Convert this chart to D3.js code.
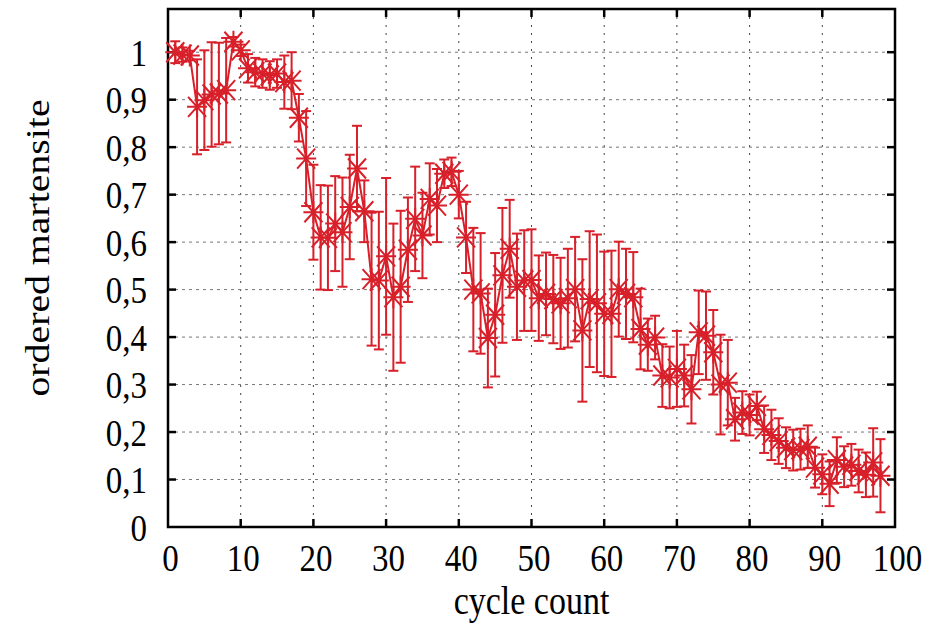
<!DOCTYPE html>
<html>
<head>
<meta charset="utf-8">
<script src="https://cdn.jsdelivr.net/npm/d3@7"></script>
<style>
  html, body { margin: 0; padding: 0; background: #fff; }
  svg { display: block; }
  text { font-family: "Liberation Serif", "DejaVu Serif", serif; fill: #000; }
</style>
</head>
<body>
<div id="chart"></div>
<script>
const WIDTH = 929;
const HEIGHT = 636;
const MARGIN = { top: 9, right: 34, bottom: 109, left: 168 };
const RED = '#d8202a';
const STRETCH = 1.17; // the reference text is taller than it is wide

const cycles = [
  1, 2, 3, 4, 5, 6, 7, 8, 9, 10, 11, 12, 13, 14, 15, 16, 17, 18, 19, 20,
  21, 22, 23, 24, 25, 26, 27, 28, 29, 30, 31, 32, 33, 34, 35, 36, 37, 38, 39, 40,
  41, 42, 43, 44, 45, 46, 47, 48, 49, 50, 51, 52, 53, 54, 55, 56, 57, 58, 59, 60,
  61, 62, 63, 64, 65, 66, 67, 68, 69, 70, 71, 72, 73, 74, 75, 76, 77, 78, 79, 80,
  81, 82, 83, 84, 85, 86, 87, 88, 89, 90, 91, 92, 93, 94, 95, 96, 97, 98
];

const martensite = [
  1.0, 0.995, 0.993, 0.885, 0.899, 0.911, 0.913, 0.92, 1.022, 1.004,
  0.966, 0.958, 0.955, 0.951, 0.955, 0.937, 0.94, 0.862, 0.776, 0.663,
  0.61, 0.609, 0.639, 0.621, 0.674, 0.755, 0.665, 0.522, 0.519, 0.57,
  0.484, 0.506, 0.584, 0.649, 0.614, 0.691, 0.677, 0.744, 0.748, 0.70,
  0.61, 0.50, 0.492, 0.398, 0.447, 0.53, 0.586, 0.506, 0.519, 0.52,
  0.482, 0.491, 0.48, 0.471, 0.482, 0.501, 0.414, 0.48, 0.471, 0.449,
  0.449, 0.501, 0.491, 0.484, 0.417, 0.384, 0.399, 0.319, 0.315, 0.333,
  0.319, 0.29, 0.41, 0.403, 0.368, 0.30, 0.304, 0.227, 0.241, 0.236,
  0.255, 0.206, 0.194, 0.181, 0.167, 0.162, 0.164, 0.169, 0.125, 0.111,
  0.091, 0.141, 0.127, 0.131, 0.118, 0.11, 0.136, 0.108
];

const errors = [
  0.023, 0.015, 0.01, 0.10, 0.105, 0.11, 0.107, 0.11, 0.01, 0.012,
  0.03, 0.03, 0.03, 0.03, 0.03, 0.056, 0.06, 0.05, 0.10, 0.10,
  0.11, 0.11, 0.10, 0.115, 0.11, 0.09, 0.065, 0.14, 0.145, 0.165,
  0.155, 0.16, 0.11, 0.11, 0.09, 0.075, 0.077, 0.03, 0.03, 0.05,
  0.075, 0.13, 0.127, 0.104, 0.13, 0.142, 0.103, 0.112, 0.106, 0.107,
  0.09, 0.087, 0.093, 0.096, 0.104, 0.11, 0.15, 0.143, 0.145, 0.131,
  0.133, 0.10, 0.095, 0.095, 0.085, 0.055, 0.046, 0.066, 0.065, 0.08,
  0.065, 0.072, 0.088, 0.093, 0.089, 0.105, 0.09, 0.045, 0.045, 0.043,
  0.03, 0.05, 0.053, 0.048, 0.043, 0.043, 0.043, 0.045, 0.042, 0.042,
  0.047, 0.048, 0.043, 0.044, 0.045, 0.047, 0.072, 0.077
];

const xTicks = [0, 10, 20, 30, 40, 50, 60, 70, 80, 90, 100];
const yTicks = [0, 0.1, 0.2, 0.3, 0.4, 0.5, 0.6, 0.7, 0.8, 0.9, 1];
const yTickLabels = ['0', '0,1', '0,2', '0,3', '0,4', '0,5', '0,6', '0,7', '0,8', '0,9', '1'];

const points = cycles.map((c, i) => ({ x: c, y: martensite[i], e: errors[i] }));

const svg = d3.select('#chart').append('svg')
  .attr('width', WIDTH)
  .attr('height', HEIGHT);

const x = d3.scaleLinear()
  .domain([0, 100])
  .range([MARGIN.left, WIDTH - MARGIN.right]);

const y = d3.scaleLinear()
  .domain([0, 1.091])
  .range([HEIGHT - MARGIN.bottom, MARGIN.top]);

const plotLeft = x.range()[0], plotRight = x.range()[1];
const plotTop = y.range()[1], plotBottom = y.range()[0];

// grid
const grid = svg.append('g');
grid.selectAll('line.gx')
  .data(xTicks.slice(1, -1))
  .join('line')
  .attr('x1', d => x(d)).attr('x2', d => x(d))
  .attr('y1', plotTop).attr('y2', plotBottom)
  .attr('stroke', '#444')
  .attr('stroke-width', 1)
  .attr('stroke-dasharray', '2,6');

grid.selectAll('line.gy')
  .data(yTicks.slice(1))
  .join('line')
  .attr('x1', plotLeft).attr('x2', plotRight)
  .attr('y1', d => y(d)).attr('y2', d => y(d))
  .attr('stroke', '#777')
  .attr('stroke-width', 1)
  .attr('stroke-dasharray', '3,4');

// axes (labels only; ticks are drawn on all four sides below)
const xAxis = svg.append('g')
  .attr('transform', `translate(0, ${plotBottom})`)
  .call(d3.axisBottom(x).tickValues(xTicks).tickSize(0));
const yAxis = svg.append('g')
  .attr('transform', `translate(${plotLeft}, 0)`)
  .call(d3.axisLeft(y).tickValues(yTicks).tickFormat((d, i) => yTickLabels[i]).tickSize(0));

[xAxis, yAxis].forEach(g => {
  g.select('.domain').remove();
  g.selectAll('text')
    .style('font-family', '"Liberation Serif", serif')
    .style('font-size', '33px')
    .attr('fill', '#000')
    .attr('x', 0).attr('y', 0).attr('dy', null);
});
xAxis.selectAll('text').attr('transform', `translate(2, 44) scale(1, ${STRETCH})`);
yAxis.selectAll('text').attr('transform', `translate(-21, 13) scale(1, ${STRETCH})`);

// tick marks on all four sides
const tickLen = 8;
const ticks = svg.append('g').attr('stroke', '#000').attr('stroke-width', 2.5);
xTicks.slice(1, -1).forEach(t => {
  ticks.append('line').attr('x1', x(t)).attr('x2', x(t)).attr('y1', plotBottom).attr('y2', plotBottom - tickLen);
  ticks.append('line').attr('x1', x(t)).attr('x2', x(t)).attr('y1', plotTop).attr('y2', plotTop + tickLen);
});
yTicks.slice(1).forEach(t => {
  ticks.append('line').attr('x1', plotLeft).attr('x2', plotLeft + tickLen).attr('y1', y(t)).attr('y2', y(t));
  ticks.append('line').attr('x1', plotRight).attr('x2', plotRight - tickLen).attr('y1', y(t)).attr('y2', y(t));
});

// frame
svg.append('rect')
  .attr('x', plotLeft).attr('y', plotTop)
  .attr('width', plotRight - plotLeft).attr('height', plotBottom - plotTop)
  .attr('fill', 'none')
  .attr('stroke', '#000')
  .attr('stroke-width', 2.5);

// data
const plot = svg.append('g');

const line = d3.line().x(d => x(d.x)).y(d => y(d.y));
plot.append('path')
  .datum(points)
  .attr('d', line)
  .attr('fill', 'none')
  .attr('stroke', RED)
  .attr('stroke-width', 2);

const capHalf = 5;
const bars = plot.selectAll('g.bar')
  .data(points)
  .join('g')
  .attr('stroke', RED)
  .attr('stroke-width', 2);

bars.append('line')
  .attr('x1', d => x(d.x)).attr('x2', d => x(d.x))
  .attr('y1', d => y(d.y - d.e)).attr('y2', d => y(d.y + d.e));
bars.append('line')
  .attr('x1', d => x(d.x) - capHalf).attr('x2', d => x(d.x) + capHalf)
  .attr('y1', d => y(d.y + d.e)).attr('y2', d => y(d.y + d.e));
bars.append('line')
  .attr('x1', d => x(d.x) - capHalf).attr('x2', d => x(d.x) + capHalf)
  .attr('y1', d => y(d.y - d.e)).attr('y2', d => y(d.y - d.e));

// asterisk markers
const mx = 10, my = 11, dx = 9, dy = 10;
const star = `M${-mx},0H${mx}M0,${-my}V${my}M${-dx},${-dy}L${dx},${dy}M${-dx},${dy}L${dx},${-dy}`;
plot.selectAll('path.mark')
  .data(points)
  .join('path')
  .attr('transform', d => `translate(${x(d.x)},${y(d.y)})`)
  .attr('d', star)
  .attr('fill', 'none')
  .attr('stroke', RED)
  .attr('stroke-width', 2);

// axis titles
svg.append('text')
  .attr('transform', `translate(${(plotLeft + plotRight) / 2}, 614) scale(1, ${STRETCH})`)
  .attr('text-anchor', 'middle')
  .style('font-size', '34px')
  .text('cycle count');

svg.append('text')
  .attr('transform', `translate(49, 248) rotate(-90) scale(${STRETCH}, 1)`)
  .attr('text-anchor', 'middle')
  .style('font-size', '34px')
  .text('ordered martensite');
</script>
</body>
</html>
